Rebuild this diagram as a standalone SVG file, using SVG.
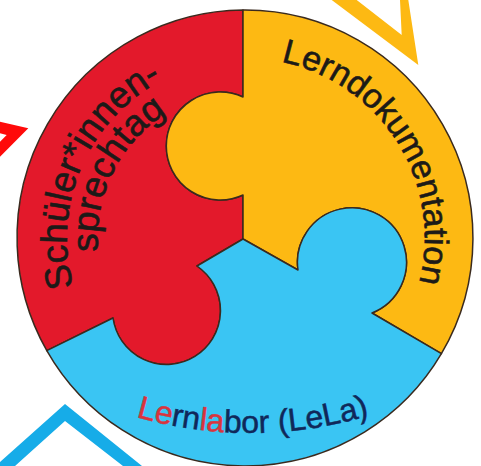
<svg xmlns="http://www.w3.org/2000/svg" width="481" height="466" viewBox="0 0 481 466">
<style>
.piece{stroke:#3a2a1e;stroke-width:1.5;stroke-linejoin:round}
.red{fill:#E3192B}
.yel{fill:#FDB913}
.blu{fill:#3AC5F3}
.lbl{font-family:"Liberation Sans",Arial,sans-serif;fill:#1c1a18;stroke:#1c1a18;stroke-width:0.6}
.navy{fill:#10285A;stroke:#10285A;stroke-width:0.5}
.rl{fill:#D8343E;stroke:#D8343E;stroke-width:0.5}
</style>
<defs>
<path id="pDoku" d="M 163.3 77.6 A 180 180 0 0 1 353.3 381.7"/>
<path id="pSchueler" d="M 160.9 394.9 A 178 178 0 0 1 300.6 68.9"/>
<path id="pSprech" d="M 168.4 363.5 A 147 147 0 0 1 298.6 101.1"/>
<path id="pLela" d="M 78.1 395.5 A 413 413 0 0 0 427.1 393.1"/>
</defs>
<rect width="481" height="466" fill="#ffffff"/>
<!-- decorative chevrons -->
<path d="M 0 121.7 L 28.3 128.3 L 0 156.7 Z M 0 133.3 L 6.7 135 L 0 141.7 Z" fill="#FF0A0A" fill-rule="evenodd"/>
<path d="M 331.7 0 L 418.3 65 L 408.3 0 Z M 356.7 0 L 401.7 35 L 400 0 Z" fill="#FDB913" fill-rule="evenodd"/>
<path d="M 0 462 L 65 404 L 142 466 L 123 466 L 65 421 L 15 466 L 0 466 Z" fill="#16ACE8"/>
<g id="connectors"/>
<g id="node-red">
<path class="piece red" d="M 243 10 L 243 97 A 54 54 0 1 0 243 195 L 243 239 L 197 266 A 54 54 0 1 1 113 318 L 46.8 350.6 A 228 228 0 0 1 243 10 Z"/>
<text class="lbl" font-size="37"><textPath href="#pSchueler" startOffset="50%" text-anchor="middle">Schüler*innen-</textPath></text>
<text class="lbl" font-size="37"><textPath href="#pSprech" startOffset="50%" text-anchor="middle">sprechtag</textPath></text>
</g>
<g id="node-yellow">
<path class="piece yel" d="M 243 10 A 228 228 0 0 1 441.4 353.7 L 372 313 A 54.5 54.5 0 1 0 298 270 L 243 239 L 243 195 A 54 54 0 1 1 243 97 Z"/>
<text class="lbl" font-size="34"><textPath href="#pDoku" startOffset="50%" text-anchor="middle">Lerndokumentation</textPath></text>
</g>
<g id="node-blue">
<path class="piece blu" d="M 46.8 350.6 L 113 318 A 54 54 0 1 0 197 266 L 243 239 L 298 270 A 54.5 54.5 0 1 1 372 313 L 441.4 353.7 A 228 228 0 0 1 46.8 350.6 Z"/>
<text class="lbl navy" font-size="32"><textPath href="#pLela" startOffset="50%" text-anchor="middle"><tspan class="rl">Le</tspan>rn<tspan class="rl">la</tspan>bor (LeLa)</textPath></text>
</g>
</svg>
